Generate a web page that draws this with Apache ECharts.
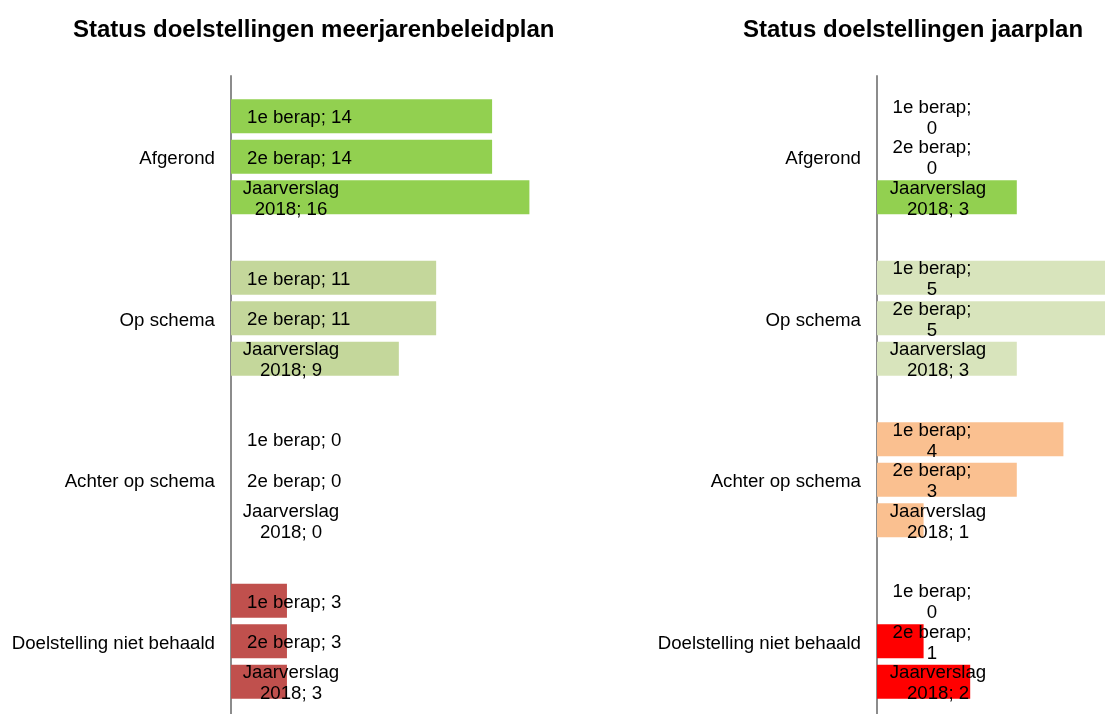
<!DOCTYPE html>
<html>
<head>
<meta charset="utf-8">
<script src="https://cdn.jsdelivr.net/npm/echarts@6/dist/echarts.min.js"></script>
<style>
html,body{margin:0;padding:0;background:#fff;overflow:hidden;width:1105px;height:714px;}
#chart{width:1120px;height:722px;}
</style>
</head>
<body>
<div id="chart"></div>
<script>
const categories = ['Afgerond', 'Op schema', 'Achter op schema', 'Doelstelling niet behaald'];
const seriesNames = ['1e berap', '2e berap', 'Jaarverslag 2018'];

// Status doelstellingen meerjarenbeleidplan
const leftBerap1 = [14, 11, 0, 3];
const leftBerap2 = [14, 11, 0, 3];
const leftJaarverslag = [16, 9, 0, 3];

// Status doelstellingen jaarplan
const rightBerap1 = [0, 5, 4, 0];
const rightBerap2 = [0, 5, 3, 1];
const rightJaarverslag = [3, 3, 1, 2];

const leftColors = ['#92D050', '#C4D79B', '#FAC090', '#C0504D'];
const rightColors = ['#92D050', '#D8E4BC', '#FAC090', '#FF0000'];

const FONT = 'Liberation Sans, Arial, sans-serif';
const FS = 18.67;

function items(values, colors) {
  return values.map((v, i) => ({ value: v, itemStyle: { color: colors[i] } }));
}

function makeSeries(idx, name, values, colors, formatter, pos, align) {
  return {
    name: name,
    type: 'bar',
    xAxisIndex: idx,
    yAxisIndex: idx,
    barWidth: 34,
    barGap: '19%',
    clip: false,
    data: items(values, colors),
    label: {
      show: true,
      position: pos,
      offset: [0, 2],
      align: align,
      verticalAlign: 'middle',
      color: '#000',
      fontSize: FS,
      lineHeight: 21,
      fontFamily: FONT,
      formatter: formatter
    }
  };
}

const chart = echarts.init(document.getElementById('chart'), null, { renderer: 'canvas' });

const yAxisBase = {
  type: 'category',
  data: categories,
  inverse: true,
  axisLine: { show: true, lineStyle: { color: '#8c8c8c', width: 2 } },
  axisTick: { show: false },
  axisLabel: {
    margin: 16,
    formatter: v => '{c|' + v + '}',
    rich: { c: { color: '#000', fontSize: FS, fontFamily: FONT, padding: [5, 0, 0, 0] } }
  },
  splitLine: { show: false }
};

chart.setOption({
  animation: false,
  backgroundColor: '#fff',
  title: [
    { text: 'Status doelstellingen meerjarenbeleidplan', left: 73, top: 18, padding: 0,
      textStyle: { fontSize: 24, fontWeight: 'bold', color: '#000', fontFamily: FONT } },
    { text: 'Status doelstellingen jaarplan', left: 743, top: 18, padding: 0,
      textStyle: { fontSize: 24, fontWeight: 'bold', color: '#000', fontFamily: FONT } }
  ],
  grid: [
    { left: 231, top: 76, width: 373, height: 646 },
    { left: 877, top: 76, width: 233, height: 646 }
  ],
  xAxis: [
    { type: 'value', gridIndex: 0, min: 0, max: 20, show: false },
    { type: 'value', gridIndex: 1, min: 0, max: 5, show: false }
  ],
  yAxis: [
    Object.assign({ gridIndex: 0 }, yAxisBase),
    Object.assign({ gridIndex: 1 }, yAxisBase)
  ],
  series: [
    makeSeries(0, seriesNames[0], leftBerap1, leftColors, p => '1e berap; ' + p.value, [16, '50%'], 'left'),
    makeSeries(0, seriesNames[1], leftBerap2, leftColors, p => '2e berap; ' + p.value, [16, '50%'], 'left'),
    makeSeries(0, seriesNames[2], leftJaarverslag, leftColors, p => 'Jaarverslag\n2018; ' + p.value, [60, '50%'], 'center'),
    makeSeries(1, seriesNames[0], rightBerap1, rightColors, p => '1e berap;\n' + p.value, [55, '50%'], 'center'),
    makeSeries(1, seriesNames[1], rightBerap2, rightColors, p => '2e berap;\n' + p.value, [55, '50%'], 'center'),
    makeSeries(1, seriesNames[2], rightJaarverslag, rightColors, p => 'Jaarverslag\n2018; ' + p.value, [61, '50%'], 'center')
  ]
});
</script>
</body>
</html>
